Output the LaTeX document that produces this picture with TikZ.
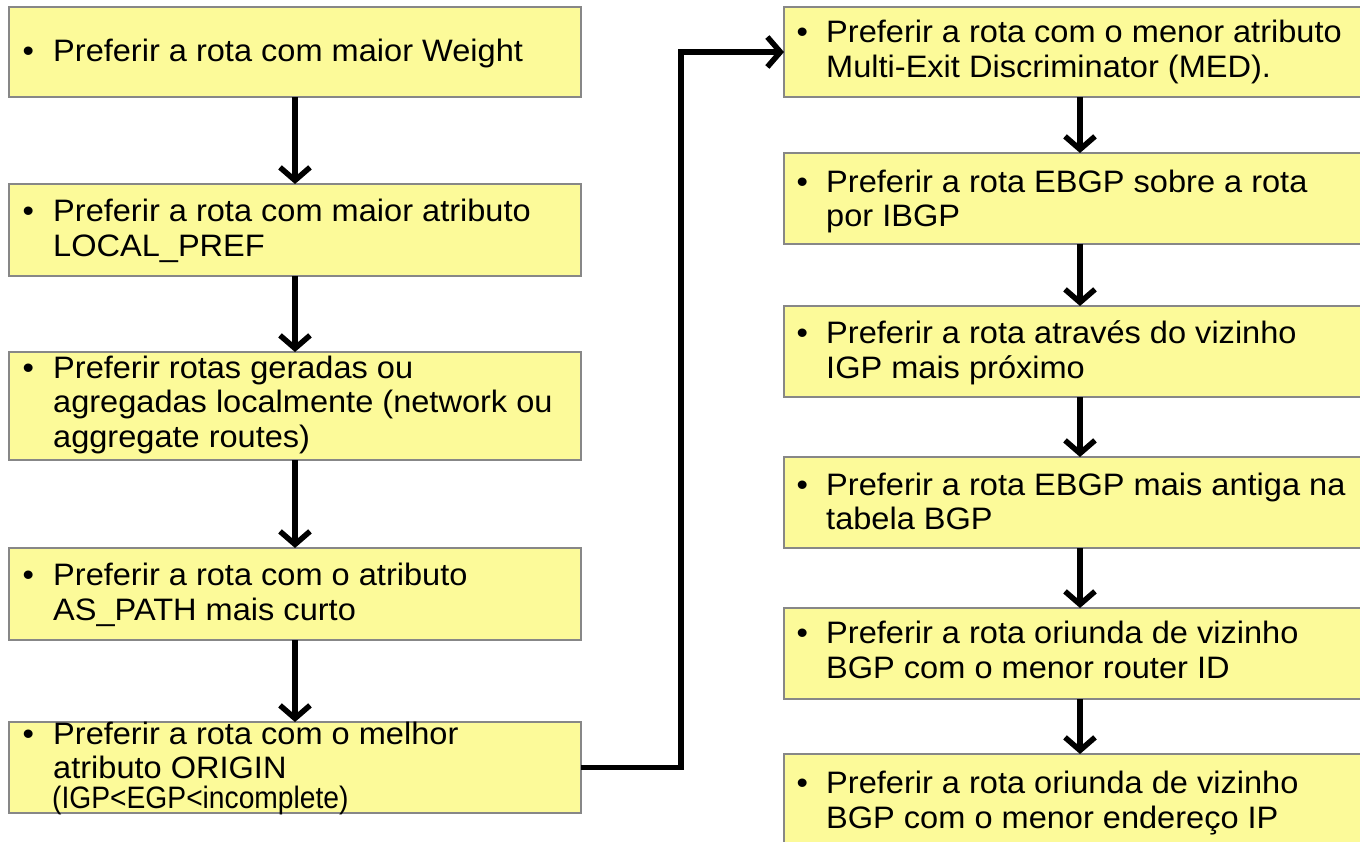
\documentclass[tikz,border=0pt]{standalone}
\usepackage{fontspec}
\setmainfont[FakeStretch=1.05]{Liberation Sans}
\newfontfamily\condf[FakeStretch=0.91]{Liberation Sans}
\usetikzlibrary{arrows.meta}
\definecolor{boxfill}{RGB}{252,250,153}
\definecolor{boxline}{RGB}{135,135,135}
\begin{document}
\begin{tikzpicture}[x=1pt,y=-1pt,
  box/.style={draw=boxline, line width=1.6pt, fill=boxfill, inner sep=0pt, outer sep=0pt},
  lbox/.style={box, minimum width=572pt},
  rbox/.style={box, minimum width=592pt},
  txt/.style={anchor=base west, inner sep=0pt, font=\fontsize{31}{35}\selectfont},
  smalltxt/.style={anchor=base west, inner sep=0pt, font=\condf\fontsize{31}{35}\selectfont},
  flow/.style={line width=5.5pt, -{Straight Barb[length=13pt,width=30pt]}}]
\clip (0,0) rectangle (1360,842);
\fill[white] (0,0) rectangle (1360,842);

% left column boxes
\node[lbox, minimum height=90pt] (L1) at (295,52) {};
\node[lbox, minimum height=92pt] (L2) at (295,230) {};
\node[lbox, minimum height=108pt] (L3) at (295,406) {};
\node[lbox, minimum height=92pt] (L4) at (295,594) {};
\node[lbox, minimum height=91pt] (L5) at (295,767.5) {};

% right column boxes
\node[rbox, minimum height=90pt] (R1) at (1080,52) {};
\node[rbox, minimum height=91pt] (R2) at (1080,198.5) {};
\node[rbox, minimum height=91pt] (R3) at (1080,351.5) {};
\node[rbox, minimum height=91pt] (R4) at (1080,502.5) {};
\node[rbox, minimum height=91pt] (R5) at (1080,653.5) {};
\node[rbox, minimum height=91pt] (R6) at (1080,799.5) {};

% connectors
\draw[flow] (L1) -- (L2);
\draw[flow] (L2) -- (L3);
\draw[flow] (L3) -- (L4);
\draw[flow] (L4) -- (L5);
\draw[flow] (L5.east) -- ++(100,0) |- (R1.west);
\draw[flow] (R1) -- (R2);
\draw[flow] (R2) -- (R3);
\draw[flow] (R3) -- (R4);
\draw[flow] (R4) -- (R5);
\draw[flow] (R5) -- (R6);

% left texts
\node[txt] (L1b) at (22.5,62) {•};
\node[txt] (L1t) at (53,62) {Preferir a rota com maior Weight};

\node[txt] (L2b) at (22.5,222) {•};
\node[txt] (L2t) at (53,222) {Preferir a rota com maior atributo};
\node[txt] (L2u) at (53,257) {LOCAL\_PREF};

\node[txt] (L3b) at (22.5,378) {•};
\node[txt] (L3t) at (53,378) {Preferir rotas geradas ou};
\node[txt] (L3u) at (53,412.5) {agregadas localmente (network ou};
\node[txt] (L3v) at (53,447) {aggregate routes)};

\node[txt] (L4b) at (22.5,585) {•};
\node[txt] (L4t) at (53,585) {Preferir a rota com o atributo};
\node[txt] (L4u) at (53,620) {AS\_PATH mais curto};

\node[txt] (L5b) at (22.5,744) {•};
\node[txt] (L5t) at (53,744) {Preferir a rota com o melhor};
\node[txt] (L5u) at (53,778) {atributo ORIGIN};
\node[smalltxt] (L5v) at (52,808) {(IGP<EGP<incomplete)};

% right texts
\node[txt] (R1b) at (796.5,43) {•};
\node[txt] (R1t) at (826,43) {Preferir a rota com o menor atributo};
\node[txt] (R1u) at (826,78) {Multi-Exit Discriminator (MED).};

\node[txt] (R2b) at (796.5,193) {•};
\node[txt] (R2t) at (826,193) {Preferir a rota EBGP sobre a rota};
\node[txt] (R2u) at (826,227) {por IBGP};

\node[txt] (R3b) at (796.5,343) {•};
\node[txt] (R3t) at (826,343) {Preferir a rota através do vizinho};
\node[txt] (R3u) at (826,378) {IGP mais próximo};

\node[txt] (R4b) at (796.5,495) {•};
\node[txt] (R4t) at (826,495) {Preferir a rota EBGP mais antiga na};
\node[txt] (R4u) at (826,529) {tabela BGP};

\node[txt] (R5b) at (796.5,643) {•};
\node[txt] (R5t) at (826,643) {Preferir a rota oriunda de vizinho};
\node[txt] (R5u) at (826,678) {BGP com o menor router ID};

\node[txt] (R6b) at (796.5,793) {•};
\node[txt] (R6t) at (826,793) {Preferir a rota oriunda de vizinho};
\node[txt] (R6u) at (826,828) {BGP com o menor endereço IP};
\end{tikzpicture}
\end{document}
